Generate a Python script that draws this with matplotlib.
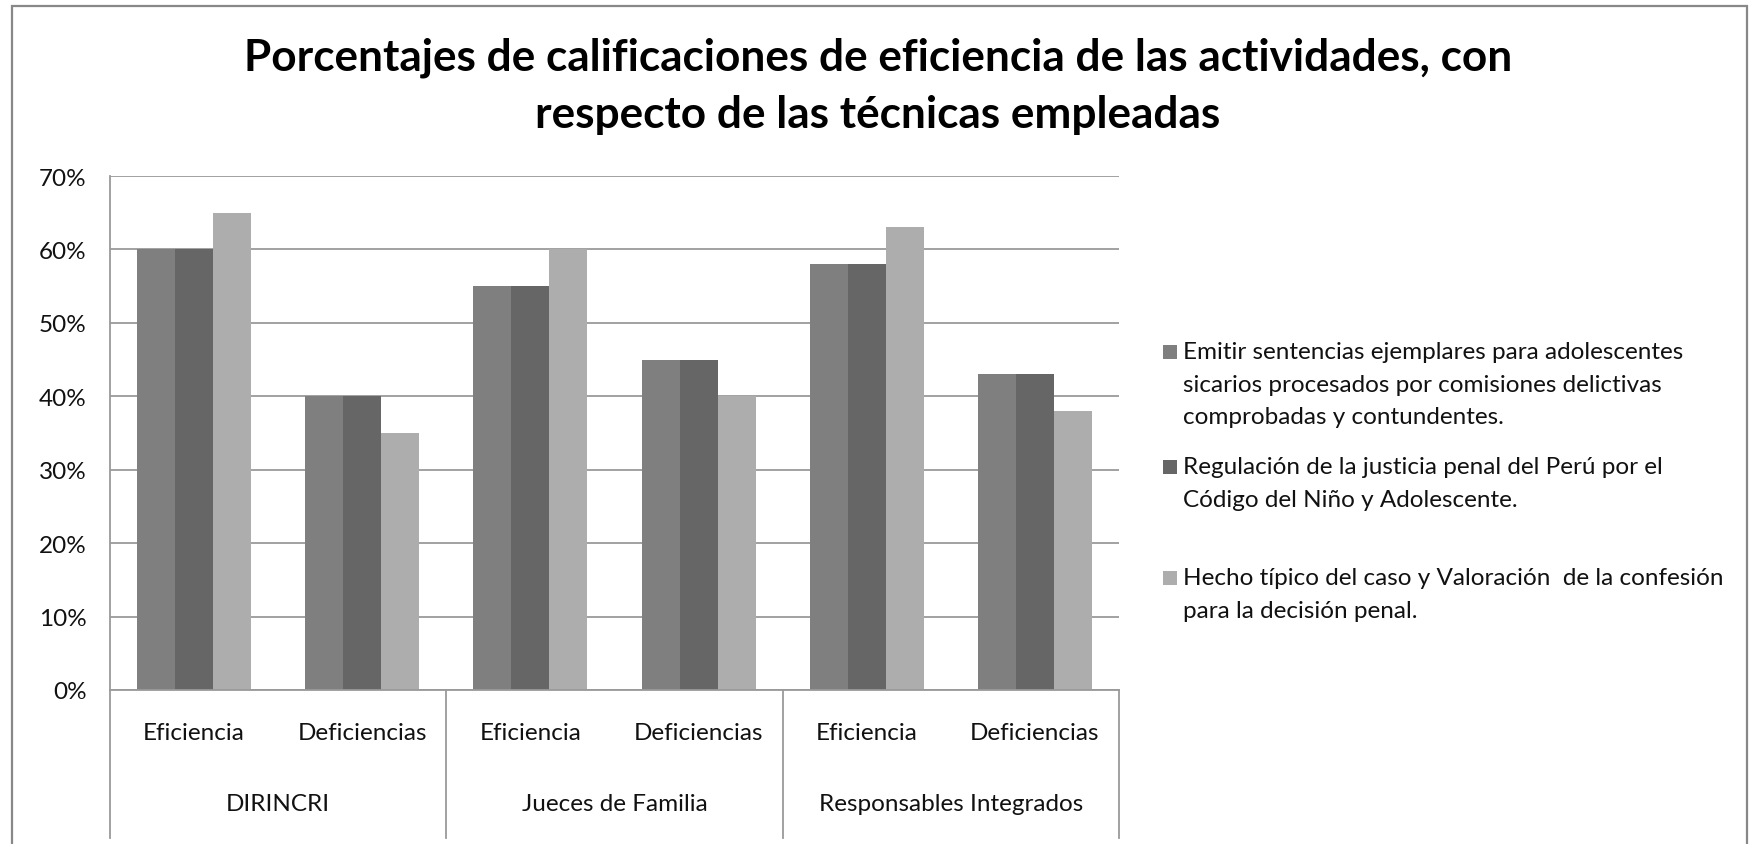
import matplotlib.pyplot as plt
from matplotlib.patches import Rectangle
from matplotlib.ticker import FuncFormatter
import numpy as np

# data (percent)
groups = ["DIRINCRI", "Jueces de Familia", "Responsables Integrados"]
subcats = ["Eficiencia", "Deficiencias"]
emitir = [60, 40, 55, 45, 58, 43]
regulacion = [60, 40, 55, 45, 58, 43]
hecho = [65, 35, 60, 40, 63, 38]
yticks = [0, 10, 20, 30, 40, 50, 60, 70]

legend_lines = [
    ["Emitir sentencias ejemplares para adolescentes",
     "sicarios procesados por comisiones delictivas",
     "comprobadas y contundentes."],
    ["Regulación de la justicia penal del Perú por el",
     "Código del Niño y Adolescente.",
     ""],
    ["Hecho típico del caso y Valoración  de la confesión",
     "para la decisión penal."],
]
colors = ["#7f7f7f", "#666666", "#adadad"]

plt.rcParams['font.family'] = ['Lato', 'DejaVu Sans']

W, H = 1754, 845
fig = plt.figure(figsize=(W / 100, H / 100), dpi=100)

# plot area in pixels
left, right, top, bottom = 110, 1119, 177, 691
ax = fig.add_axes([left / W, 1 - bottom / H, (right - left) / W, (bottom - top) / H])

x = np.arange(len(emitir))
w = 0.226
series = [emitir, regulacion, hecho]
for i, vals in enumerate(series):
    ax.bar(x + (i - 1) * w, vals, width=w, color=colors[i], edgecolor="none", zorder=2)

fs = 17.5
ax.set_xlim(-0.5, len(emitir) - 0.5)
ax.set_ylim(0, 70)
ax.set_yticks(yticks)
ax.yaxis.set_major_formatter(FuncFormatter(lambda v, p: f"{v:.0f}%"))
ax.tick_params(axis="y", length=0, pad=17, labelsize=fs, colors="#111111")
ax.set_xticks([])
ax.grid(axis="y", color="#9a9a9a", linewidth=1.3, zorder=1)
for s in ["top", "right"]:
    ax.spines[s].set_visible(False)
ax.spines["bottom"].set_color("#9a9a9a")
ax.spines["bottom"].set_linewidth(1.3)
ax.spines["left"].set_visible(False)

# category labels and separators
ph = bottom - top
sep_y = -(839 - bottom) / ph
trans = ax.get_xaxis_transform()
for xs in np.arange(-0.5, len(emitir), 2):
    y_top = 1 if xs == -0.5 else 0
    ax.plot([xs, xs], [y_top, sep_y], transform=trans, color="#9a9a9a", lw=1.3, clip_on=False)
for i in x:
    ax.text(i, -(734 - bottom) / ph, subcats[i % 2], transform=trans, ha="center", va="center",
            fontsize=fs, color="#111111")
for g, name in enumerate(groups):
    ax.text(2 * g + 0.5, -(805 - bottom) / ph, name, transform=trans, ha="center", va="center",
            fontsize=fs, color="#111111")

# title
fig.text(878 / W, 1 - 58 / H, "Porcentajes de calificaciones de eficiencia de las actividades, con",
         ha="center", va="center", fontsize=31.8, fontweight="bold", color="#000000")
fig.text(878 / W, 1 - 115 / H, "respecto de las técnicas empleadas",
         ha="center", va="center", fontsize=31.8, fontweight="bold", color="#000000")

# legend drawn by hand to match the wrapped layout
line_step = 32.5
entry_top = [353, 468, 579]
for k, lines in enumerate(legend_lines):
    y0 = entry_top[k]
    fig.patches.append(Rectangle((1163 / W, 1 - (y0 + 7) / H), 14 / W, 14 / H,
                                 transform=fig.transFigure, facecolor=colors[k], edgecolor="none"))
    for j, ln in enumerate(lines):
        fig.text(1183 / W, 1 - (y0 + j * line_step) / H, ln, ha="left", va="center",
                 fontsize=fs, color="#111111")

# outer chart border
fig.patches.append(Rectangle((12 / W, -0.02), (1747 - 12) / W, 1 - 7 / H + 0.02,
                             transform=fig.transFigure, fill=False, edgecolor="#888888", lw=1.6))

fig.savefig("out.png", dpi=100)
